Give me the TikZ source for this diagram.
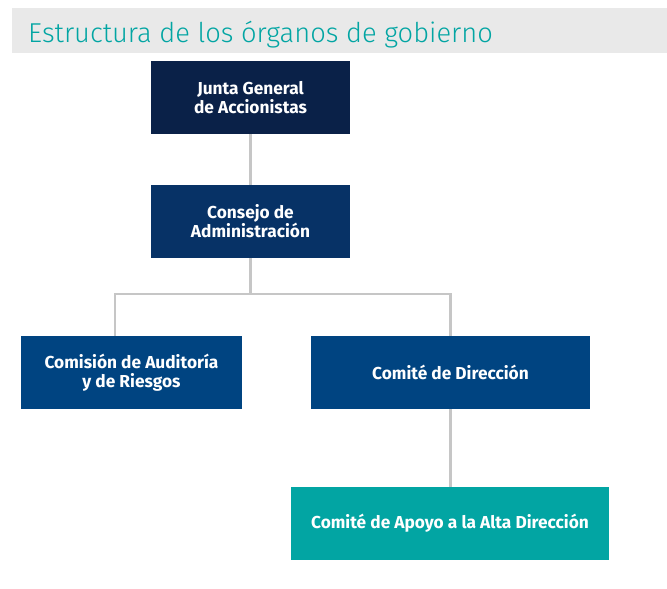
\documentclass[tikz,border=0pt]{standalone}
\usepackage{fontspec}
\setmainfont{Fira Sans}
\newfontfamily\titlefont{Fira Sans}[UprightFont={* Light}]
\newfontfamily\boxfont{Fira Sans}[UprightFont={* Bold}]
\definecolor{navy}{HTML}{0A2148}
\definecolor{darkblue}{HTML}{073266}
\definecolor{coreblue}{HTML}{004481}
\definecolor{aqua}{HTML}{02A5A3}
\definecolor{band}{HTML}{E9E9E9}
\definecolor{linegray}{HTML}{C6C6C6}
\begin{document}
\begin{tikzpicture}[x=1pt,y=-1pt,
  orgbox/.style={minimum height=73pt, inner sep=0pt, align=center, text=white,
    font=\boxfont\fontsize{17.3}{19}\selectfont},
  conn/.style={draw=linegray, line width=2.7pt}]
\useasboundingbox (0,0) rectangle (667,589);
\fill[white] (0,0) rectangle (667,589);
\fill[band] (12,8) rectangle (667,53);
\node[anchor=base west, inner sep=0pt, text=aqua, font=\titlefont\fontsize{27.3}{30}\selectfont] (title) at (28,42) {Estructura de los órganos de gobierno};
\node[orgbox, fill=navy, minimum width=199pt] (junta) at (250.5,97.5) {Junta General\\de Accionistas};
\node[orgbox, fill=darkblue, minimum width=199pt] (cons) at (250.5,221.5) {Consejo de\\Administración};
\node[orgbox, fill=coreblue, minimum width=221pt] (aud) at (131.5,372.5) {Comisión de Auditoría\\y de Riesgos};
\node[orgbox, fill=coreblue, minimum width=279pt] (com) at (450.5,372.5) {Comité de Dirección};
\node[orgbox, fill=aqua, minimum width=318pt] (apoyo) at (450,523.5) {Comité de Apoyo a la Alta Dirección};
\coordinate (la) at (115,294);
\coordinate (ra) at (450.5,294);
\draw[conn] (junta.south) -- (cons.north);
\draw[conn] (cons.south) -- (cons.south |- la);
\draw[conn] (la |- aud.north) -- (la) -- (ra) -- (com.north);
\draw[conn] (com.south) -- (com.south |- apoyo.north);
\end{tikzpicture}
\end{document}
